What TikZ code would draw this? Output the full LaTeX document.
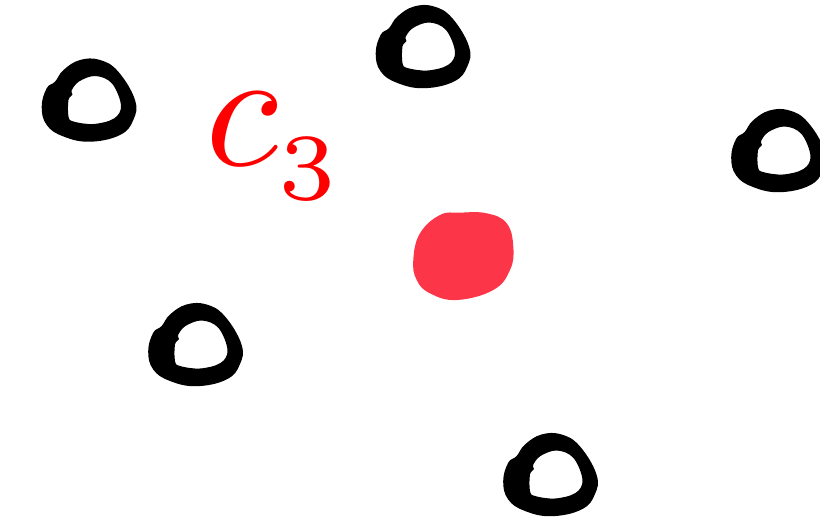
\documentclass[tikz,border=0pt]{standalone}
\usepackage{tikz}
\usepackage{xcolor}
\definecolor{blobred}{RGB}{252, 53, 72}
\definecolor{labelred}{RGB}{255, 0, 0}
\usetikzlibrary{positioning}

\tikzset{
    ring/.pic={
        \fill[black, even odd rule]
            plot[smooth cycle, tension=0.7] coordinates {
                (-47.8,6.2) (-42.8,-12.2) (-34.5,-18.8) (-26,-30.5) (-9.5,-40.5)
                (10.5,-40.5) (28.8,-28.8) (45.5,-0.5) (43.8,19.5) (30.5,34.5)
                (0.5,41.2) (-26,36) (-42.8,24.5)}
            plot[smooth cycle, tension=0.6] coordinates {
                (-21,16) (-21,-0.5) (-17,-6) (-18,-9.8) (-10.5,-19)
                (6,-24.5) (22.5,-17) (31.5,5) (24.5,18) (4,23.5)
                (-16,21)};
    }
}

\begin{document}
\begin{tikzpicture}[
        x=0.01cm, y=-0.01cm,
        blob/.style={fill=blobred},
        label/.style={text=labelred, inner sep=0pt, font=\fontsize{10}{12}\selectfont}
    ]
        \useasboundingbox (0,0) rectangle (820,518);
        % Rings
        \pic at (89.5,100.5) {ring};
        \pic at (423.5,47) {ring};
        \pic at (779,151) {ring};
        \pic at (196,345) {ring};
        \pic at (551,475) {ring};
        % Centroid
        \fill[blob] plot[smooth cycle, tension=0.7] coordinates {
            (413.3,260) (420,233.3) (440,215) (460,212.7) (486.7,213.3)
            (506.7,223.3) (513.3,246.7) (510,270) (493.3,290) (456.7,300)
            (430,293.3) (416.7,280)};
        % Label
        \node[label, anchor=base west] (c3) at (205,166)
            {\scalebox{4.8}{$c$\raisebox{-2pt}{\fontsize{5.6}{7}\selectfont 3}}};
\end{tikzpicture}
\end{document}
